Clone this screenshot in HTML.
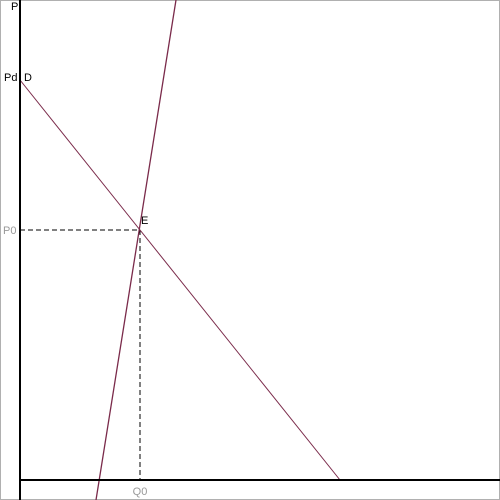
<!DOCTYPE html>
<html><head><meta charset="utf-8"><style>
html,body{margin:0;padding:0;background:#fff;}
svg{display:block;font-family:"Liberation Sans",sans-serif;}
</style></head><body>
<svg id="chart" width="500" height="500">
<rect x="0.5" y="0.5" width="499" height="499" fill="#fff" stroke="#b0b0b0"/>
<g id="marks"></g>
</svg>
<script>
const demandQ = [0, 320];
const demandP = [400, 0];
const supplyQ = [76, 156];
const supplyP = [-20, 480];
const eqQ = [120];
const eqP = [250];
const axisLabels = ["P", "Pd", "D", "P0", "Q0", "E"];

const x = q => 20 + q;
const y = p => 480 - p;
const NS = "http://www.w3.org/2000/svg";
const g = document.getElementById("marks");
function mk(tag, attrs, name) {
  const el = document.createElementNS(NS, tag);
  for (const k in attrs) el.setAttribute(k, attrs[k]);
  
  
  g.appendChild(el);
  return el;
}
function txt(s, tx, ty, fill, name, anchor) {
  const t = mk("text", {x: tx, y: ty, fill: fill, "font-size": 11, "text-anchor": anchor || "start"}, name);
  t.textContent = s;
}
mk("line", {x1: x(0), y1: y(eqP[0]), x2: x(eqQ[0]), y2: y(eqP[0]), stroke: "#000", "stroke-dasharray": "5,3"}, "p0-guide");
mk("line", {x1: x(eqQ[0]), y1: y(eqP[0]), x2: x(eqQ[0]), y2: y(0), stroke: "#000", "stroke-dasharray": "5,3"}, "q0-guide");
mk("line", {x1: x(demandQ[0]), y1: y(demandP[0]), x2: x(demandQ[1]), y2: y(demandP[1]), stroke: "#7a2a4a", "stroke-width": 1}, "demand-line");
mk("line", {x1: x(supplyQ[0]), y1: y(supplyP[0]), x2: x(supplyQ[1]), y2: y(supplyP[1]), stroke: "#7a2a4a", "stroke-width": 1.3}, "supply-line");
mk("line", {x1: 20, y1: 0, x2: 20, y2: 500, stroke: "#000", "stroke-width": 2}, "y-axis");
mk("line", {x1: 20, y1: 480, x2: 500, y2: 480, stroke: "#000", "stroke-width": 2}, "x-axis");
txt(axisLabels[0], 11, 10, "#000", "y-axis-title");
txt(axisLabels[1], 4, 81, "#000", "pd-label");
txt(axisLabels[2], 24, 81, "#000", "demand-label");
txt(axisLabels[3], 3, 234, "#999", "p0-label");
txt(axisLabels[4], x(eqQ[0]), 495, "#999", "q0-label", "middle");
txt(axisLabels[5], x(eqQ[0]) + 1, y(eqP[0]) - 6, "#000", "equilibrium-label");
</script>
</body></html>
